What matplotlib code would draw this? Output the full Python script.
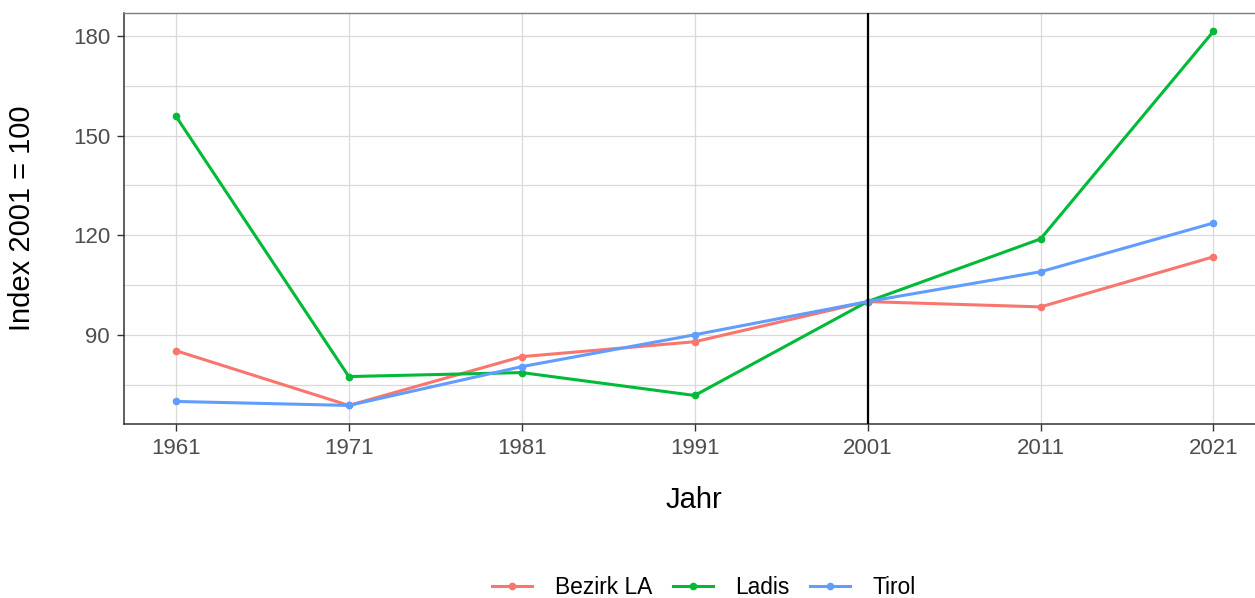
import matplotlib.pyplot as plt
from matplotlib.ticker import MultipleLocator

plt.rcParams["font.family"] = ["Liberation Sans", "DejaVu Sans"]

jahre = [1961, 1971, 1981, 1991, 2001, 2011, 2021]
bezirk_la = [85.2, 68.7, 83.4, 87.9, 100.0, 98.4, 113.5]
ladis = [155.9, 77.4, 78.6, 71.7, 100.0, 118.9, 181.5]
tirol = [69.9, 68.7, 80.4, 90.0, 100.0, 109.0, 123.7]

series = [
    ("Bezirk LA", bezirk_la, "#F8766D"),
    ("Ladis", ladis, "#00BA38"),
    ("Tirol", tirol, "#619CFF"),
]

fig = plt.figure(figsize=(12.55, 5.98), dpi=100)
ax = fig.add_axes([124 / 1255, 1 - 424 / 598, 1 - 124 / 1255, (424 - 13) / 598])

for name, vals, col in series:
    ax.plot(jahre, vals, color=col, lw=2.2, marker="o", ms=4.5, label=name, zorder=3)

ax.axvline(2001, color="black", lw=1.6, zorder=4)

ax.set_xlim(1958, 2023.4)
ax.set_ylim(63.1, 187.0)
ax.set_xticks(jahre)
ax.yaxis.set_major_locator(MultipleLocator(30))
ax.yaxis.set_minor_locator(MultipleLocator(15))

ax.grid(which="major", color="#D9D9D9", lw=0.9)
ax.grid(which="minor", color="#D9D9D9", lw=0.9)
ax.set_axisbelow(True)

for s in ["left", "bottom"]:
    ax.spines[s].set_color("#333333")
    ax.spines[s].set_linewidth(1.1)
ax.spines["top"].set_color("#7F7F7F")
ax.spines["top"].set_linewidth(1.0)
ax.spines["right"].set_visible(False)

ax.tick_params(which="major", length=5, width=1.0, color="#333333",
               labelsize=16, labelcolor="#4D4D4D", pad=5)
ax.tick_params(which="minor", length=0)

fig.text(694 / 1255, 1 - 500 / 598, "Jahr", fontsize=21, ha="center", va="center")
fig.text(22 / 1255, 1 - 218 / 598, "Index 2001 = 100", fontsize=21,
         rotation=90, ha="center", va="center")

handles, labels = ax.get_legend_handles_labels()
fig.legend(handles, labels, loc="center", bbox_to_anchor=(704 / 1255, 1 - 587 / 598),
           ncol=3, frameon=False, fontsize=16.4, handlelength=1.76,
           handletextpad=0.97, columnspacing=0.92)

fig.savefig("out.png", dpi=100)
